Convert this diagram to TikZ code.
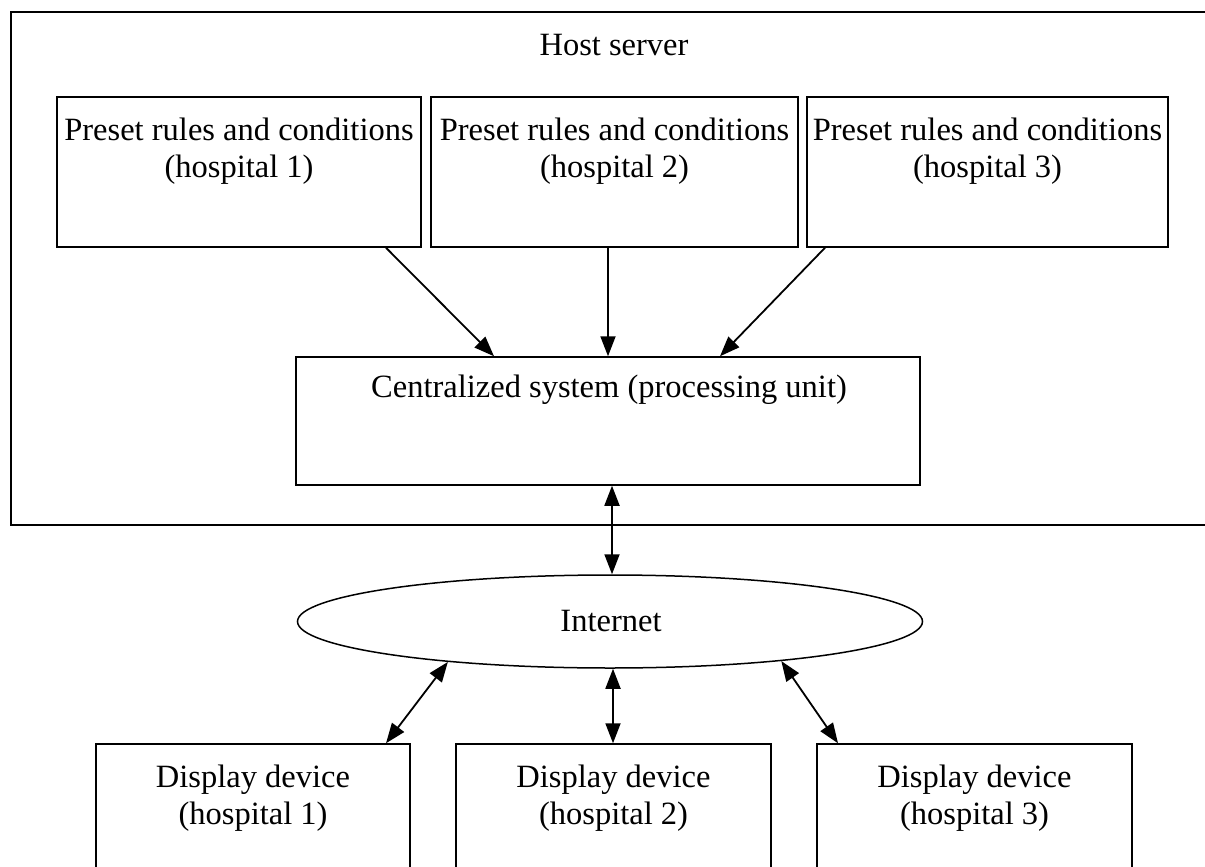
\documentclass[tikz,border=0pt]{standalone}
\usepackage{fontspec}
\setmainfont{Liberation Serif}
\usetikzlibrary{shapes.geometric,arrows.meta,calc}
\begin{document}
\begin{tikzpicture}[x=1pt,y=-1pt,
  box/.style={draw=black,line width=1.5pt,rectangle,inner sep=0pt},
  txt/.style={inner sep=0pt,align=center,font=\fontsize{32.5}{37}\selectfont},
  arr/.style={line width=1.8pt,-{Triangle[length=20pt,width=15pt]}},
  barr/.style={line width=1.8pt,{Triangle[length=20pt,width=15pt]}-{Triangle[length=20pt,width=15pt]}}]
\useasboundingbox (0,0) rectangle (1205,867);
\clip (0,0) rectangle (1205,867);
\fill[white] (0,0) rectangle (1205,867);
% host server container
\node[box,minimum width=1220pt,minimum height=513pt] (host) at (621,268.5) {};
\node[txt] (hosttitle) at (614,45) {Host server};
% preset boxes
\node[box,minimum width=364pt,minimum height=150pt] (p1) at (239,172) {};
\node[box,minimum width=367pt,minimum height=150pt] (p2) at (614.5,172) {};
\node[box,minimum width=361pt,minimum height=150pt] (p3) at (987.5,172) {};
\node[txt] (t1) at (239,151) {Preset rules and conditions\\(hospital 1)};
\node[txt] (t2) at (614.5,151) {Preset rules and conditions\\(hospital 2)};
\node[txt] (t3) at (987.5,151) {Preset rules and conditions\\(hospital 3)};
% centralized system
\node[box,minimum width=624pt,minimum height=128pt] (cs) at (608,421) {};
\node[txt] (cst) at (609,390) {Centralized system (processing unit)};
% internet
\node[draw=black,line width=1.5pt,ellipse,inner sep=0pt,minimum width=625pt,minimum height=93pt] (inet) at (610,621.5) {};
\node[txt] (inett) at (611,621) {Internet};
% display devices
\node[box,minimum width=314pt,minimum height=180pt] (d1) at (253,834) {};
\node[box,minimum width=315pt,minimum height=180pt] (d2) at (613.5,834) {};
\node[box,minimum width=315pt,minimum height=180pt] (d3) at (974.5,834) {};
\node[txt] (dt1) at (253,798) {Display device\\(hospital 1)};
\node[txt] (dt2) at (613.5,798) {Display device\\(hospital 2)};
\node[txt] (dt3) at (974.5,798) {Display device\\(hospital 3)};
% arrows into centralized system
\draw[arr] ([xshift=147pt]p1.south) -- ([xshift=-114pt]cs.north);
\draw[arr] (cs.north |- p2.south) -- (cs.north);
\draw[arr] ([xshift=-162.5pt]p3.south) -- ([xshift=112pt]cs.north);
% cs <-> internet
\draw[barr] ([xshift=4pt]cs.south) -- ([xshift=2pt]inet.north);
% internet <-> displays
\draw[barr] (inet.194) -- ([xshift=133pt]d1.north);
\draw[barr] ([xshift=3pt]inet.south) -- ([xshift=-0.5pt]d2.north);
\draw[barr] (inet.347) -- ([xshift=-136.5pt]d3.north);
\end{tikzpicture}
\end{document}
